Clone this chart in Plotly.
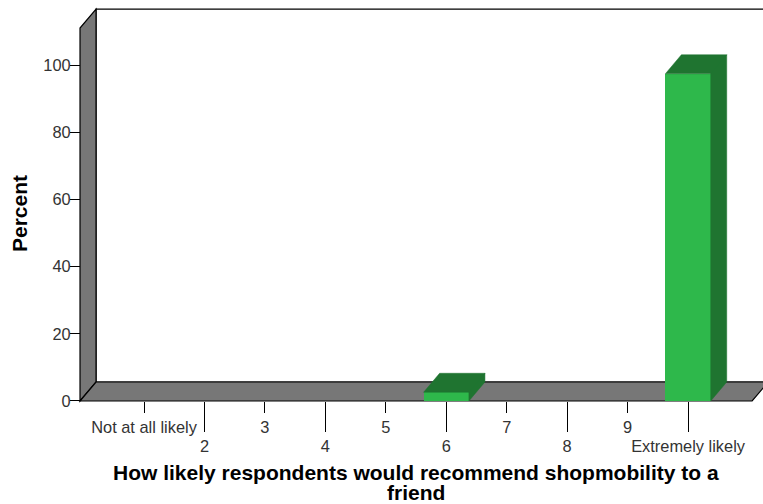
import plotly.graph_objects as go

# ---- data -------------------------------------------------------------
categories = ["Not at all likely", "2", "3", "4", "5", "6", "7", "8", "9", "Extremely likely"]
percent = [0, 0, 0, 0, 0, 2.6, 0, 0, 0, 97.4]
y_ticks = [0, 20, 40, 60, 80, 100]

x_title_lines = ["How likely respondents would recommend shopmobility to a", "friend"]
y_title = "Percent"

# ---- style ------------------------------------------------------------
FRONT = "#2eb84b"
SHADE = "#1f7430"
WALL = "#777777"
TICK_FONT = dict(family="Arial, Liberation Sans, sans-serif", size=16.4, color="#333333")
TITLE_FONT = dict(family="Arial, Liberation Sans, sans-serif", size=21, color="black", weight="bold")

W, H = 763, 504
M_L, M_R, M_T, M_B = 60, 0, 5, 89

# axis ranges (category slots on x, percent on y)
X_RANGE = [-0.39, 11.24]
Y_RANGE = [-4.17, 117.86]

# pseudo-3D depth offset, expressed in axis units
DX = 0.265
DY = 5.65
BAR_W = 0.75

# frame of the chart box
X_LEFT = -0.059      # front edge of the left wall
X_RIGHT = 11.06      # front-right end of the floor
WALL_TOP = 111.0     # front-top of the left wall

positions = list(range(1, len(categories) + 1))

fig = go.Figure()

# front faces of the bars
fig.add_trace(go.Bar(
    x=positions, y=percent, width=BAR_W,
    marker=dict(color=FRONT, line=dict(width=0)),
    xaxis="x", yaxis="y", hoverinfo="skip",
))

# top and right-hand faces of each bar
px, py = [], []
for c, v in zip(positions, percent):
    if v <= 0:
        continue
    l, r = c - BAR_W / 2, c + BAR_W / 2
    # top face
    px += [l, r, r + DX, l + DX, l, None]
    py += [v, v, v + DY, v + DY, v, None]
    # side face
    px += [r, r, r + DX, r + DX, r, None]
    py += [0, v, v + DY, DY, 0, None]
fig.add_trace(go.Scatter(
    x=px, y=py, mode="lines", fill="toself", fillcolor=SHADE,
    line=dict(color=SHADE, width=0.5), hoverinfo="skip",
    xaxis="x", yaxis="y",
))

# invisible anchor so the second (staggered) category axis is drawn
fig.add_trace(go.Scatter(
    x=positions[1::2], y=[0] * len(positions[1::2]), mode="markers",
    marker=dict(opacity=0), hoverinfo="skip", xaxis="x2", yaxis="y",
))

# back wall, left wall and floor of the box
def path(pts):
    return "M " + " L ".join(f"{x},{y}" for x, y in pts) + " Z"

frame = [
    ("white", [(X_LEFT + DX, DY), (X_LEFT + DX, WALL_TOP + DY), (13, WALL_TOP + DY), (13, DY)]),
    (WALL, [(X_LEFT, 0), (X_LEFT, WALL_TOP), (X_LEFT + DX, WALL_TOP + DY), (X_LEFT + DX, DY)]),
    (WALL, [(X_LEFT, 0), (X_RIGHT, 0), (X_RIGHT + DX, DY), (X_LEFT + DX, DY)]),
]
shapes = [
    dict(type="path", path=path(pts), xref="x", yref="y", fillcolor=fill,
         line=dict(color="black", width=1.2), layer="below")
    for fill, pts in frame
]

plot_w = W - M_L - M_R
plot_h = H - M_T - M_B
axis_x_pos = (X_LEFT - X_RANGE[0]) / (X_RANGE[1] - X_RANGE[0])
axis_y_pos = (0 - Y_RANGE[0]) / (Y_RANGE[1] - Y_RANGE[0])

common_x = dict(
    range=X_RANGE, anchor="free", position=axis_y_pos, side="bottom",
    showgrid=False, zeroline=False, showline=False, ticks="outside",
    tickcolor="black", tickwidth=1, tickfont=TICK_FONT, fixedrange=True,
)

fig.update_layout(
    width=W, height=H,
    margin=dict(l=M_L, r=M_R, t=M_T, b=M_B),
    paper_bgcolor="white", plot_bgcolor="white",
    showlegend=False, bargap=0,
    shapes=shapes,
    xaxis=dict(**common_x, tickvals=positions[0::2],
               ticktext=categories[0::2], ticklen=11),
    xaxis2=dict(**common_x, overlaying="x", tickvals=positions[1::2],
                ticktext=categories[1::2], ticklen=30),
    yaxis=dict(range=Y_RANGE, anchor="free", position=axis_x_pos,
               tickvals=y_ticks, ticks="outside", ticklen=10, tickcolor="black",
               ticklabelstandoff=-4,
               showgrid=False, zeroline=False, showline=False,
               tickfont=TICK_FONT, fixedrange=True),
    annotations=[
        dict(text=y_title, textangle=-90, font=TITLE_FONT, showarrow=False,
             xref="paper", yref="paper", x=(19 - M_L) / plot_w, y=(H - M_B - 214) / plot_h,
             xanchor="center", yanchor="middle"),
        dict(text=x_title_lines[0], font=TITLE_FONT, showarrow=False,
             xref="paper", yref="paper", x=(416 - M_L) / plot_w, y=(H - M_B - 472) / plot_h,
             xanchor="center", yanchor="middle"),
        dict(text=x_title_lines[1], font=TITLE_FONT, showarrow=False,
             xref="paper", yref="paper", x=(416 - M_L) / plot_w, y=(H - M_B - 492) / plot_h,
             xanchor="center", yanchor="middle"),
    ],
)

fig.write_html("out.html")
